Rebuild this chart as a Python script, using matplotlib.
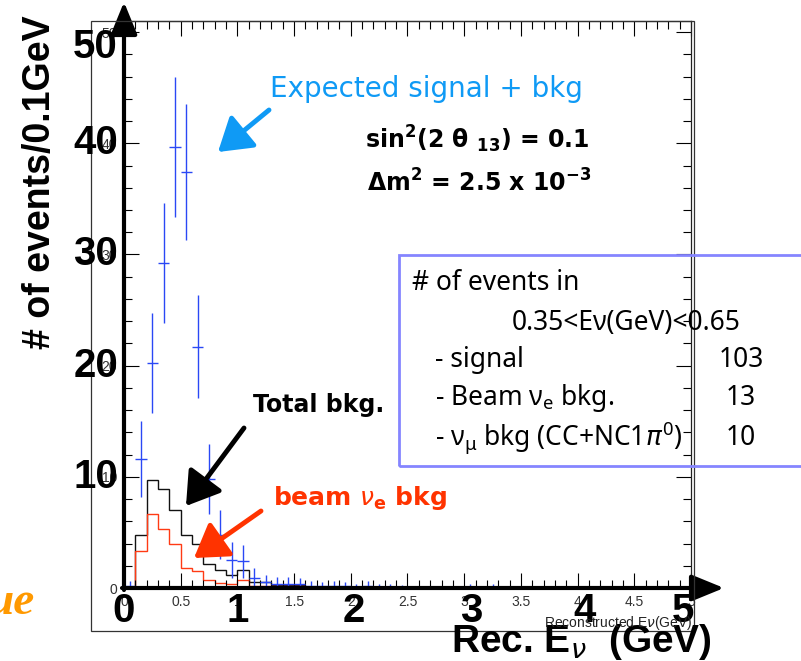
import matplotlib
matplotlib.use("Agg")
import numpy as np
import matplotlib.pyplot as plt
from matplotlib.ticker import MultipleLocator, FuncFormatter
from matplotlib.patches import Rectangle
from matplotlib.transforms import blended_transform_factory, offset_copy

plt.rcParams["font.family"] = ["Liberation Sans", "DejaVu Sans"]
plt.rcParams["mathtext.default"] = "regular"

# ---- data (events per 0.1 GeV bin, bins starting at 0.0 GeV) ----
bin_width = 0.1
total_bkg = [0.1, 4.8, 9.7, 8.9, 7.0, 4.8, 4.0, 2.2, 1.65, 1.15,
             1.65, 0.55, 0.55, 0.3, 0.3, 0.3, 0.1, 0.1, 0.05, 0.05,
             0.05, 0.05, 0.0, 0.0, 0.0, 0.0, 0.0, 0.0, 0.0, 0.0,
             0.05, 0.05, 0.05, 0.0]
beam_nue_bkg = [0.1, 3.3, 6.7, 5.3, 4.0, 1.8, 1.55, 0.7, 0.45, 0.35,
                0.75, 0.2, 0.2, 0.15, 0.15, 0.15, 0.05, 0.05, 0.0, 0.0,
                0.0, 0.0, 0.0, 0.0, 0.0, 0.0, 0.0, 0.0, 0.0, 0.0,
                0.05, 0.05, 0.05, 0.0]

# expected signal + background with statistical errors
sig_energy = [0.05, 0.15, 0.25, 0.35, 0.45, 0.55, 0.65, 0.75, 0.85, 0.95,
              1.05, 1.15, 1.25, 1.35, 1.45, 1.55, 1.65, 1.75, 1.85, 1.95,
              2.05, 2.15, 2.25, 2.35, 2.45, 3.05, 3.25]
sig_events = [0.2, 11.6, 20.2, 29.2, 39.7, 37.4, 21.7, 9.8, 4.8, 2.5,
              2.4, 0.9, 0.5, 0.4, 0.35, 0.35, 0.2, 0.15, 0.2, 0.15,
              0.1, 0.2, 0.1, 0.1, 0.05, 0.1, 0.1]
sig_errors = [0.45, 3.4, 4.5, 5.4, 6.3, 6.1, 4.65, 3.15, 2.2, 1.6,
              1.5, 0.9, 0.7, 0.6, 0.6, 0.55, 0.4, 0.35, 0.4, 0.35,
              0.3, 0.4, 0.3, 0.3, 0.2, 0.25, 0.25]

big_x_labels = ["0", "1", "2", "3", "4", "5"]
big_x_values = [0, 1, 2, 3, 4, 5]
big_y_labels = ["10", "20", "30", "40", "50"]
big_y_values = [10, 20, 30, 40, 50]

W, H = 801, 661
fig = plt.figure(figsize=(W / 100, H / 100), dpi=100)


def fx(px):
    return px / W


def fy(py):
    return 1 - py / H


ax = fig.add_axes([fx(124), fy(588), (691 - 124) / W, (588 - 21) / H])
ax.set_xlim(0, 5)
ax.set_ylim(0, 51)

edges_tot = np.arange(len(total_bkg) + 1) * bin_width
edges_nue = np.arange(len(beam_nue_bkg) + 1) * bin_width
ax.stairs(total_bkg, edges_tot, baseline=0, color="#111111", lw=1.0)
ax.stairs(beam_nue_bkg, edges_nue, baseline=0, color="#ff3a14", lw=1.0)
ax.errorbar(sig_energy, sig_events, yerr=sig_errors, xerr=bin_width / 2,
            fmt="none", ecolor="#2a48f5", elinewidth=1.0, capsize=0)

# ROOT-like axis ticks
ax.xaxis.set_major_locator(MultipleLocator(0.5))
ax.xaxis.set_minor_locator(MultipleLocator(0.1))
ax.yaxis.set_major_locator(MultipleLocator(10))
ax.yaxis.set_minor_locator(MultipleLocator(2))
ax.xaxis.set_major_formatter(FuncFormatter(lambda v, p: f"{v:g}"))
ax.yaxis.set_major_formatter(FuncFormatter(lambda v, p: f"{v:g}"))
ax.tick_params(which="both", direction="in", top=True, right=True,
               labelsize=10, labelcolor="#333333", width=0.8)
ax.tick_params(which="major", length=11, pad=5)
ax.tick_params(which="minor", length=6)
for s in ax.spines.values():
    s.set_linewidth(0.9)
    s.set_color("#222222")

# outer pad frame
fig.add_artist(Rectangle((fx(91), fy(631)), (694 - 91) / W, (631 - 21) / H,
                         transform=fig.transFigure, fill=False,
                         lw=0.9, ec="#333333"))

# thick axis arrows
ax.annotate("", xy=(124, H - 2), xytext=(124, H - 590),
            xycoords="figure pixels", textcoords="figure pixels",
            arrowprops=dict(arrowstyle="-|>,head_length=1.1,head_width=0.45",
                            lw=3, color="black", mutation_scale=18,
                            shrinkA=0, shrinkB=0))
ax.annotate("", xy=(724, H - 588), xytext=(122, H - 588),
            xycoords="figure pixels", textcoords="figure pixels",
            arrowprops=dict(arrowstyle="-|>,head_length=1.1,head_width=0.45",
                            lw=3, color="black", mutation_scale=18,
                            shrinkA=0, shrinkB=0))

# large tick labels
x_offsets = [0, 0, 3, 7, 7, -8]
xtr = blended_transform_factory(ax.transData, fig.transFigure)
for lab, v, off in zip(big_x_labels, big_x_values, x_offsets):
    t = offset_copy(xtr, fig=fig, x=off, y=0, units="dots")
    fig.text(v, fy(611), lab, transform=t, ha="center", va="center",
             fontsize=29, fontweight="bold")
y_offsets = [0, 0, 0, 0, -15]
ytr = blended_transform_factory(fig.transFigure, ax.transData)
for lab, v, off in zip(big_y_labels, big_y_values, y_offsets):
    t = offset_copy(ytr, fig=fig, x=0, y=off, units="dots")
    fig.text(fx(118), v, lab, transform=t, ha="right", va="center",
             fontsize=29, fontweight="bold")

fig.text(fx(40), fy(182), "# of events/0.1GeV", rotation=90,
         ha="center", va="center", fontsize=27, fontweight="bold")
fig.text(fx(712), fy(652), r"Rec. E$_{\mathit{\nu}}$  (GeV)", ha="right",
         va="baseline", fontsize=28, fontweight="bold")
fig.text(fx(692), fy(627), r"Reconstructed E$\mathit{\nu}$(GeV)", ha="right",
         va="baseline", fontsize=10, color="#222222")

# annotations
dv = ["DejaVu Sans"]
blue = "#0f9af5"
fig.text(fx(270), fy(97), "Expected signal + bkg", color=blue,
         fontsize=20, family=dv, ha="left", va="baseline")
ax.annotate("", xy=(218, H - 152), xytext=(269, H - 110),
            xycoords="figure pixels", textcoords="figure pixels",
            arrowprops=dict(arrowstyle="-|>,head_length=1.1,head_width=0.7",
                            lw=3.5, color=blue, mutation_scale=18,
                            shrinkA=0, shrinkB=0))
fig.text(fx(365), fy(148), r"sin$^2$(2 θ $_{13}$) = 0.1", fontsize=17,
         family=dv, fontweight="bold", ha="left", va="baseline")
fig.text(fx(367), fy(192), r"Δm$^2$ = 2.5 x 10$^{-3}$", fontsize=17,
         family=dv, fontweight="bold", ha="left", va="baseline")

fig.text(fx(319), fy(412), "Total bkg.", fontsize=17, family=dv,
         fontweight="bold", ha="center", va="baseline")
ax.annotate("", xy=(186, H - 506), xytext=(244, H - 428),
            xycoords="figure pixels", textcoords="figure pixels",
            arrowprops=dict(arrowstyle="-|>,head_length=1.1,head_width=0.7",
                            lw=3.5, color="black", mutation_scale=18,
                            shrinkA=0, shrinkB=0))
red = "#ff3300"
fig.text(fx(273), fy(505), r"beam $\mathit{\nu}_{e}$ bkg", fontsize=18,
         family=dv, fontweight="bold", color=red, ha="left", va="baseline")
ax.annotate("", xy=(194, H - 558), xytext=(261, H - 511),
            xycoords="figure pixels", textcoords="figure pixels",
            arrowprops=dict(arrowstyle="-|>,head_length=1.1,head_width=0.7",
                            lw=3.5, color=red, mutation_scale=18,
                            shrinkA=0, shrinkB=0))

fig.text(fx(35), fy(614), "ue", fontsize=34, fontweight="bold",
         fontstyle="italic", family="Liberation Serif", color="#ff9900",
         ha="right", va="baseline")

# event-count box
fig.add_artist(Rectangle((fx(399), fy(466)), (830 - 399) / W, (466 - 255) / H,
                         transform=fig.transFigure, fill=False,
                         lw=2, ec="#8585ff"))
box_font = dict(fontsize=19, family=["Noto Sans", "DejaVu Sans"], va="center")
fig.text(fx(412), fy(283), "# of events in", ha="left", **box_font)
fig.text(fx(512), fy(323), "0.35<Eν(GeV)<0.65", ha="left", **box_font)
rows = ["- signal", r"- Beam ν$_{e}$ bkg.", r"- ν$_{μ}$ bkg (CC+NC1$\mathit{\pi}^{0}$)"]
counts = ["103", "13", "10"]
row_y = [360, 398, 438]
for r, c, yy in zip(rows, counts, row_y):
    fig.text(fx(435), fy(yy), r, ha="left", **box_font)
    fig.text(fx(741), fy(yy), c, ha="center", **box_font)

fig.savefig("out.png", dpi=100)
